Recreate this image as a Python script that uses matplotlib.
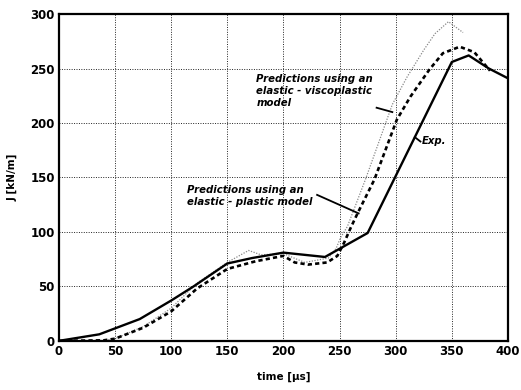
import matplotlib
matplotlib.use("Agg")
import matplotlib.pyplot as plt

# Experimental curve (solid)
exp_x = [0, 36, 72, 100, 120, 150, 172, 200, 237, 275, 350, 365, 383, 400]
exp_y = [0, 6, 20, 37, 50, 71, 76, 81, 77, 99, 256, 262, 250, 241]

# Elastic-plastic prediction (dashed)
pl_x = [0, 40, 50, 75, 100, 123, 150, 175, 200, 210, 222, 239, 248, 254, 260, 266, 281, 301, 313, 330, 342, 357, 370, 384]
pl_y = [0, 0.5, 2, 12, 27, 48, 66, 73, 78, 72, 70, 72, 78, 90, 104, 117, 148, 203, 224, 249, 264, 270, 265, 248]

# Elastic-viscoplastic prediction (dotted)
vp_x = [0, 40, 50, 75, 100, 123, 150, 169, 180, 200, 219, 240, 247, 251, 257, 273, 297, 310, 325, 335, 347, 360]
vp_y = [0, 0.5, 2, 13, 30, 53, 72, 83, 79, 80, 72, 76, 85, 95, 105, 148, 217, 242, 267, 282, 293, 283]

xticks = [0, 50, 100, 150, 200, 250, 300, 350, 400]
yticks = [0, 50, 100, 150, 200, 250, 300]

fig = plt.figure(figsize=(5.21, 3.9), dpi=100)
ax = fig.add_axes([0.113, 0.126, 0.862, 0.838])

ax.plot(vp_x, vp_y, color="#888888", lw=0.9, linestyle=(0, (1, 1.2)))
ax.plot(pl_x, pl_y, color="black", lw=1.9, linestyle=(0, (1.6, 1.2)))
ax.plot(exp_x, exp_y, color="black", lw=1.7)

ax.set_xlim(0, 400)
ax.set_ylim(0, 300)
ax.set_xticks(xticks)
ax.set_yticks(yticks)
ax.set_xticklabels([str(t) for t in xticks], fontweight="bold", fontsize=8.5)
ax.set_yticklabels([str(t) for t in yticks], fontweight="bold", fontsize=8.5)
ax.tick_params(length=0, pad=3)
ax.grid(True, color="#222222", linestyle=(0, (1, 1.5)), lw=0.7)
for s in ax.spines.values():
    s.set_linewidth(1.6)

ax.set_xlabel("time [μs]", fontweight="bold", fontsize=7.5, labelpad=10)
ax.set_ylabel("J [kN/m]", fontweight="bold", fontsize=7.5, labelpad=9)

tkw = dict(fontsize=7.3, fontweight="bold", fontstyle="italic", va="top", ha="left",
           linespacing=1.25)
ax.text(176, 245, "Predictions using an\nelastic - viscoplastic\nmodel", **tkw)
ax.text(114, 143, "Predictions using an\nelastic - plastic model", **tkw)
ax.text(323, 188, "Exp.", **tkw)

ax.plot([283, 297], [214, 210], color="black", lw=1.3)
ax.plot([230, 267], [134, 117], color="black", lw=1.3)
ax.plot([317, 322], [187, 183], color="black", lw=1.3)

fig.savefig("out.png", dpi=100)
